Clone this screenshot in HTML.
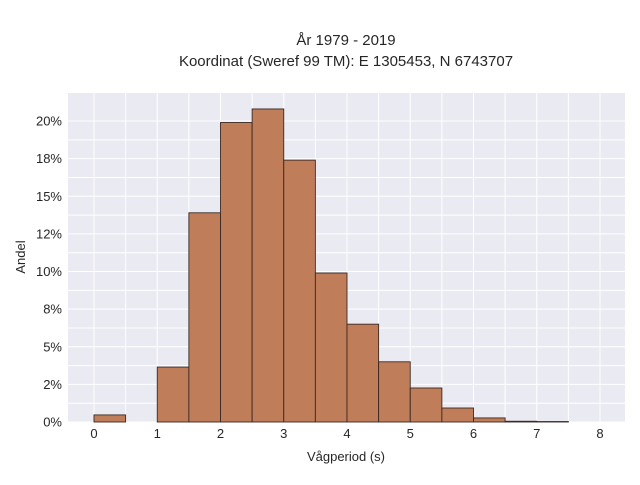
<!DOCTYPE html>
<html><head><meta charset="utf-8"><style>
body{margin:0;background:#fff;}
svg text{font-family:"Liberation Sans",sans-serif;fill:#262626;}
</style></head><body>
<svg width="640" height="480" xmlns="http://www.w3.org/2000/svg">
<text x="346" y="45" font-size="15" text-anchor="middle">År 1979 - 2019</text>
<text x="346" y="66" font-size="15" text-anchor="middle">Koordinat (Sweref 99 TM): E 1305453, N 6743707</text>
<rect x="68" y="93" width="557" height="329" fill="#eaeaf2"/>
<g id="grid"></g><g id="bars"></g><g id="ticks"></g>
<text x="346" y="461" font-size="13" text-anchor="middle">Vågperiod (s)</text>
<text transform="translate(25,257) rotate(-90)" font-size="13" text-anchor="middle">Andel</text>
</svg>
<script>
const binStarts=[0,0.5,1,1.5,2,2.5,3,3.5,4,4.5,5,5.5,6,6.5,7];
const shares=[0.47,0,3.65,13.9,19.9,20.8,17.4,9.9,6.5,4.0,2.26,0.93,0.27,0.05,0.03];
const xTicks=[0,1,2,3,4,5,6,7,8];
const yTicks=[0,2.5,5,7.5,10,12.5,15,17.5,20];
const yTickLabels=["0%","2%","5%","8%","10%","12%","15%","18%","20%"];
const binW=0.5;
const X=v=>94+v*63.25, Y=v=>422-v*15.05;
const NS="http://www.w3.org/2000/svg";
function mk(t,a,p){const e=document.createElementNS(NS,t);for(const k in a)e.setAttribute(k,a[k]);p.appendChild(e);return e;}
const g=document.getElementById('grid'),b=document.getElementById('bars'),tk=document.getElementById('ticks');
for(let v=-0.5;v<=8.5;v+=0.5){const l=mk('line',{x1:X(v),x2:X(v),y1:93,y2:422,stroke:'#fff','stroke-width':1},g);
}
for(let v=0;v<=21;v+=1.25){const l=mk('line',{x1:68,x2:625,y1:Y(v),y2:Y(v),stroke:'#fff','stroke-width':1},g);
}
binStarts.forEach((s,i)=>{if(shares[i]<=0)return;const r=mk('rect',{x:X(s),y:Y(shares[i]),width:X(s+binW)-X(s),height:Y(0)-Y(shares[i]),fill:'#bf7d5a',stroke:'#3a2a22','stroke-width':0.9},b);
});
xTicks.forEach(v=>{const t=mk('text',{x:X(v),y:438,'font-size':13,'text-anchor':'middle'},tk);t.textContent=v;
});
yTicks.forEach((v,i)=>{const t=mk('text',{x:62,y:Y(v)+4.5,'font-size':13,'text-anchor':'end'},tk);t.textContent=yTickLabels[i];
});
</script>
</body></html>
